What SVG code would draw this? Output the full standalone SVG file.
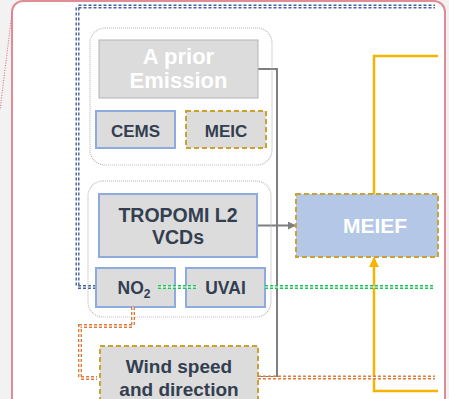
<svg xmlns="http://www.w3.org/2000/svg" width="449" height="399" viewBox="0 0 449 399">
<defs>
<style>
.t{font-family:"Liberation Sans",Arial,sans-serif;font-weight:bold;text-anchor:middle}
.dk{fill:#333f50}
.wh{fill:#ffffff}
.gbox{fill:#dcdcdc}
.blue{stroke:#8faadc;stroke-width:2}
.gold{stroke:#c9a232;stroke-width:2;stroke-dasharray:5,3}
.cont{fill:none;stroke:#b8b8b8;stroke-width:1.2;stroke-dasharray:1,1}
</style>
<marker id="ag" markerWidth="8" markerHeight="8" refX="7" refY="4" orient="auto" markerUnits="userSpaceOnUse"><path d="M0,0 L8,4 L0,8 z" fill="#7f7f7f"/></marker>
<marker id="ay" markerWidth="10" markerHeight="10" refX="9" refY="5" orient="auto" markerUnits="userSpaceOnUse"><path d="M0,0 L10,5 L0,10 z" fill="#f5b400"/></marker>
</defs>
<rect x="0" y="0" width="449" height="399" fill="#f2f2f2"/>
<rect x="12" y="1" width="433" height="430" rx="11" fill="#ffffff" stroke="#e08c94" stroke-width="2"/>
<line x1="12" y1="13" x2="0" y2="110" stroke="#e06070" stroke-width="1" stroke-dasharray="1,1.5"/>

<g id="connectors">
<path d="M96,287 H77.5 V6.5 H435" fill="none" stroke="#44619c" stroke-width="4" stroke-dasharray="3,2"/>
<path d="M96,287 H77.5 V6.5 H435" fill="none" stroke="#ffffff" stroke-width="1.2"/>
<path d="M258,69 H277 V377 H258" fill="none" stroke="#7f7f7f" stroke-width="2"/>
<line x1="257" y1="225.5" x2="295" y2="225.5" stroke="#7f7f7f" stroke-width="2" marker-end="url(#ag)"/>
<path d="M438,56 H374 V194" fill="none" stroke="#f5b400" stroke-width="2.5"/>
<path d="M438,391 H374 V258" fill="none" stroke="#f5b400" stroke-width="2.5" marker-end="url(#ay)"/>
</g>

<g id="upper-group"><rect x="90" y="28" width="182" height="137" rx="15" class="cont"/></g>
<g id="lower-group"><rect x="88" y="181" width="183" height="136" rx="15" class="cont"/></g>

<g id="a-prior-emission">
<rect x="99" y="40" width="159" height="58" class="gbox" stroke="#b4b4b4" stroke-width="1"/>
<text x="178.5" y="64" class="t wh" font-size="22">A prior</text>
<text x="178.5" y="88" class="t wh" font-size="22">Emission</text>
</g>
<g id="cems">
<rect x="96" y="111" width="79" height="37" class="gbox blue"/>
<text x="135.5" y="137" class="t dk" font-size="17">CEMS</text>
</g>
<g id="meic">
<rect x="186" y="111" width="80" height="37" class="gbox gold"/>
<text x="226" y="137" class="t dk" font-size="17">MEIC</text>
</g>
<g id="tropomi">
<rect x="99" y="194" width="158" height="63" class="gbox blue"/>
<text x="178" y="222" class="t dk" font-size="19.5">TROPOMI L2</text>
<text x="178" y="244" class="t dk" font-size="19.5">VCDs</text>
</g>
<g id="no2">
<rect x="96" y="268" width="79" height="39" class="gbox blue"/>
<text x="134" y="294" class="t dk" font-size="17.5">NO<tspan font-size="12" dy="4">2</tspan></text>
</g>
<g id="uvai">
<rect x="186" y="268" width="79" height="39" class="gbox blue"/>
<text x="225.5" y="294" class="t dk" font-size="17.5">UVAI</text>
</g>
<g id="wind">
<rect x="100" y="346" width="158" height="70" class="gbox gold"/>
<text x="179" y="373" class="t dk" font-size="19">Wind speed</text>
<text x="179" y="396" class="t dk" font-size="19">and direction</text>
</g>
<g id="meief">
<rect x="296" y="194" width="142" height="63" fill="#b4c7e7" class="gold"/>
<text x="375" y="233" class="t wh" font-size="21">MEIEF</text>
</g>

<g id="overlay-connectors">
<path d="M158,287 H197 M265,287 H435" fill="none" stroke="#1ec45a" stroke-width="4" stroke-dasharray="3,2"/>
<path d="M158,287 H197 M265,287 H435" fill="none" stroke="#ffffff" stroke-width="1.2"/>
<path d="M133,307 V326 H80 V378 H97 M258,377.5 H435" fill="none" stroke="#e07b3c" stroke-width="4" stroke-dasharray="3,2"/>
<path d="M133,307 V326 H80 V378 H97 M258,377.5 H435" fill="none" stroke="#ffffff" stroke-width="1.2"/>
</g>
</svg>
